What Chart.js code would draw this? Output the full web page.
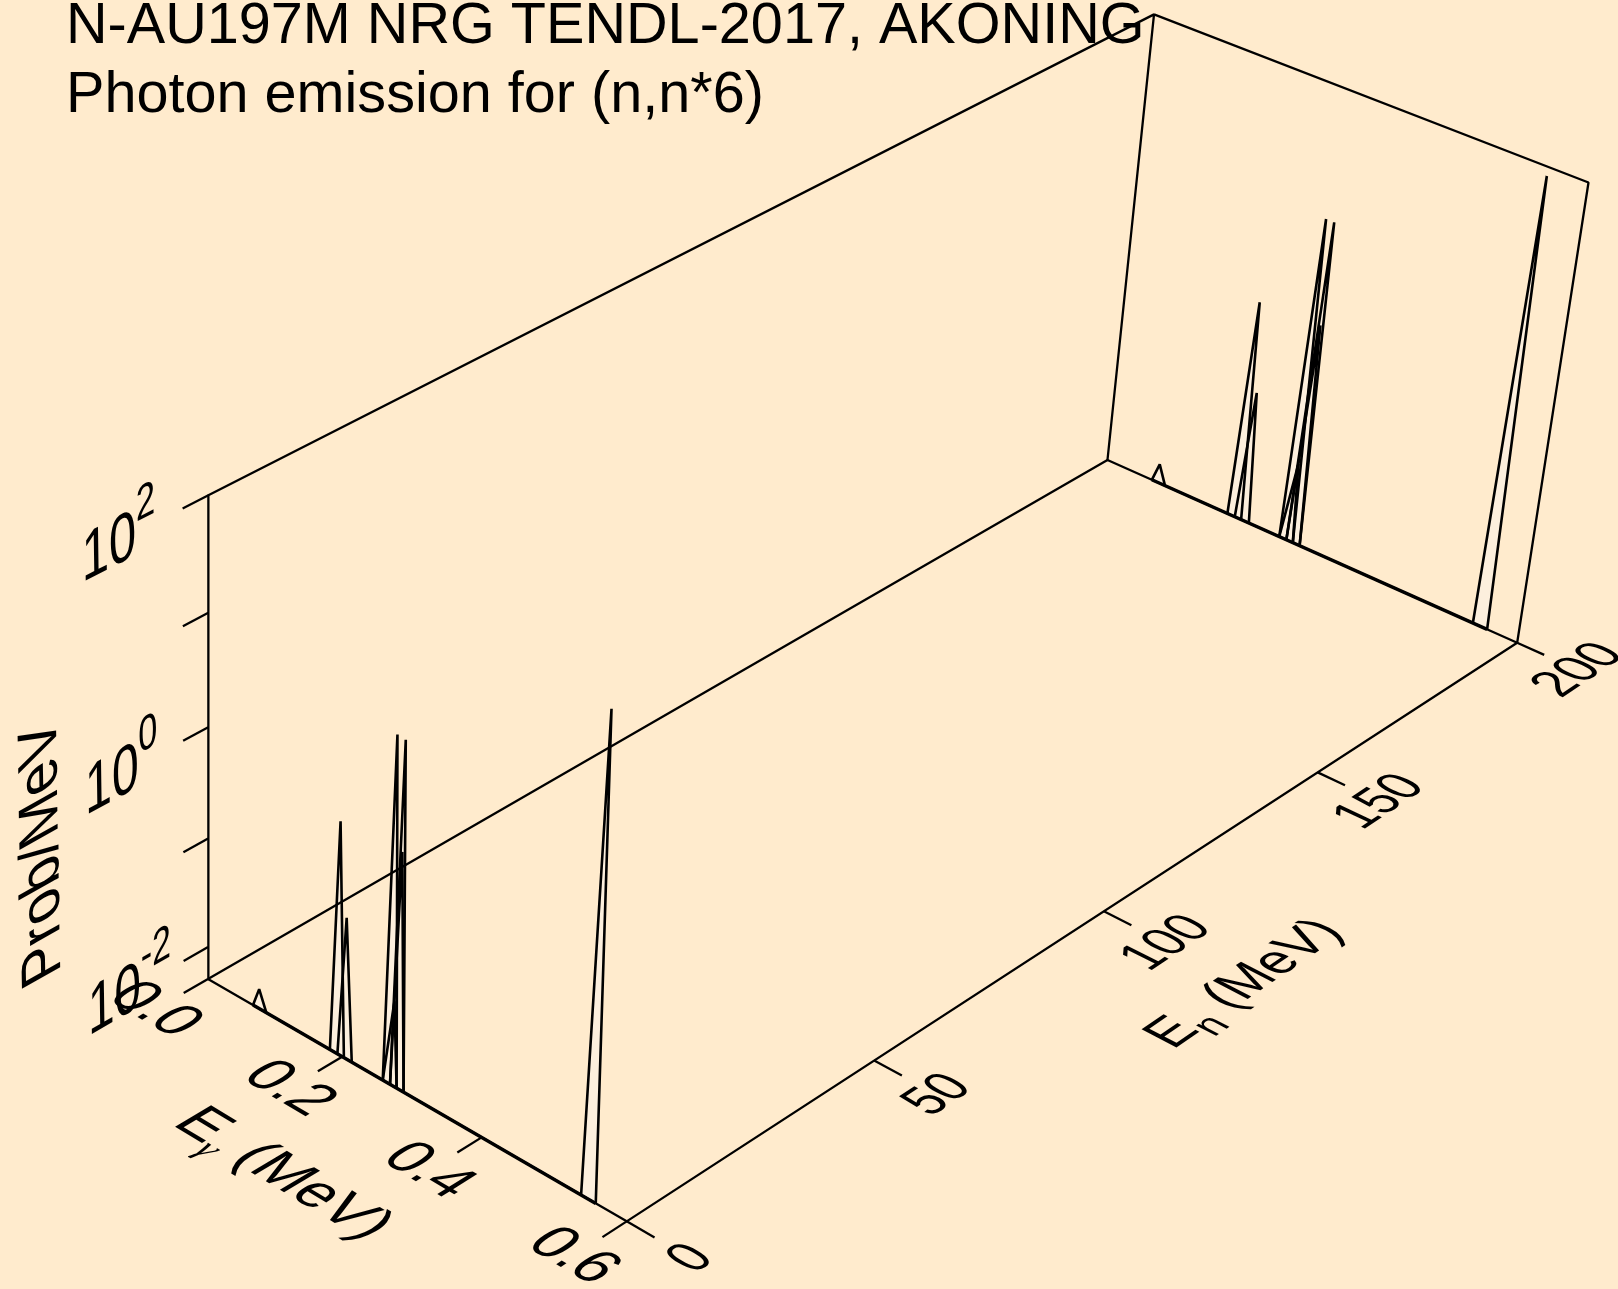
<!DOCTYPE html>
<html><head><meta charset="utf-8">
<style>html,body{margin:0;padding:0;background:#FFEBCD}canvas{display:block}</style>
<script src="https://cdn.jsdelivr.net/npm/chart.js@4"></script>
</head><body><canvas id="c" width="1618" height="1289"></canvas>
<script>
// ---- data ----
const titleLines = ["N-AU197M NRG TENDL-2017, AKONING", "Photon emission for (n,n*6)"];
const egRange = [0, 0.6];
const enRange = [0, 200];
const probRange = [0.005, 100];
const egTicks = [0, 0.2, 0.4, 0.6];
const egTickLabels = ["0.0", "0.2", "0.4", "0.6"];
const enTicks = [0, 50, 100, 150, 200];
const probTicks = [0.01, 0.1, 1, 10, 100];
const probLabelled = [[0.01, "-2"], [1, "0"], [100, "2"]];
// Each photon line: rising edge, apex and falling edge in E-gamma (MeV)
const lineLow  = [0.068, 0.182, 0.193, 0.259, 0.259, 0.2695, 0.2695, 0.538];
const lineApex = [0.077, 0.192, 0.203, 0.2685, 0.273, 0.280, 0.279, 0.547];
const lineHigh = [0.088, 0.2025, 0.214, 0.279, 0.279, 0.289, 0.289, 0.558];
const spectrumEn = [0, 200];
const probAtLowEn  = [0.0076, 0.64, 0.096, 6.5, 0.030, 6.4, 0.68, 86];
const probAtHighEn = [0.0076, 0.63, 0.090, 6.2, 0.029, 6.2, 0.66, 83];
const baselineEg = [0.068, 0.558];

// ---- view: perspective of the unit box (u=E-gamma, v=E-n, w=log prob) ----
const uOf = e => (e - egRange[0]) / (egRange[1] - egRange[0]);
const vOf = e => (e - enRange[0]) / (enRange[1] - enRange[0]);
const wOf = p => (Math.log10(p) - Math.log10(probRange[0])) / (Math.log10(probRange[1]) - Math.log10(probRange[0]));
function view(u, v, w) {
  const d = 1 - 0.05696 * u + 0.14576 * v - 0.056 * w;
  return { x: (208 + 383.0 * u + 1060.9 * v - 11.3 * w) / d,
           y: (979 + 172.8 * u - 451.95 * v - 511.4 * w) / d };
}
const path = pts => pts.map(p => view(p[0], p[1], p[2]));

const INK = "#000", FILL = "#FCEFDD";
const datasets = [];
function addLine(pts, width) {
  datasets.push({ data: path(pts), borderColor: INK, borderWidth: width, pointRadius: 0,
    tension: 0, borderJoinStyle: "bevel", borderCapStyle: "butt", showLine: true, fill: false });
}
function addFill(pts) {
  datasets.push({ data: path(pts), borderColor: "transparent", borderWidth: 0, pointRadius: 0,
    tension: 0, showLine: true, fill: "shape", backgroundColor: FILL });
}
// box
const BOX = 2.3, MARK = 2.6;
addLine([[0,0,0],[1,0,0],[1,1,0],[0,1,0],[0,0,0]], BOX);
addLine([[0,0,0],[0,0,1],[0,1,1],[0,1,0]], BOX);
addLine([[0,1,1],[1,1,1],[1,1,0]], BOX);
// ticks
const T = 0.0235;
egTicks.forEach(e => addLine([[uOf(e),0,0],[uOf(e),-T,0]], BOX));
enTicks.forEach(e => addLine([[1,vOf(e),0],[1.0625,vOf(e),0]], BOX));
probTicks.forEach(p => addLine([[0,-T,wOf(p)],[0,0,wOf(p)]], BOX));
// spectra: outlines first (painted last), then the pale fills
const spectrum = k => lineApex.map((a, i) => {
  const probs = k === 0 ? probAtLowEn : probAtHighEn, v = vOf(spectrumEn[k]);
  return [[uOf(lineLow[i]),v,0],[uOf(a),v,wOf(probs[i])],[uOf(lineHigh[i]),v,0]];
});
spectrumEn.forEach((en, k) => {
  const v = vOf(en);
  addLine([[uOf(baselineEg[0]),v,0],[uOf(baselineEg[1]),v,0]], 3.4);
  spectrum(k).forEach(p => addLine(p, MARK));
});
spectrumEn.forEach((en, k) => spectrum(k).forEach(addFill));

// ---- text lying in the planes of the box ----
function planeText(ctx, segs, at, base, up, size, sx = 1, sy = 1, center = false) {
  const o = view(at[0], at[1], at[2]), E = 0.01;
  const dir = a => { const q = view(at[0]+a[0]*E, at[1]+a[1]*E, at[2]+a[2]*E);
    const dx = q.x-o.x, dy = q.y-o.y, l = Math.hypot(dx,dy); return {x:dx/l,y:dy/l}; };
  const b = dir(base), n = dir(up);
  const fontOf = s => (s.font || "") + " " + (s.size||size) + "px " + (s.family||"'Liberation Sans'");
  ctx.save();
  ctx.transform(b.x*sx, b.y*sx, -n.x*sy, -n.y*sy, o.x, o.y);
  ctx.fillStyle = INK; ctx.textBaseline = "alphabetic"; ctx.textAlign = "left";
  let total = 0;
  segs.forEach(s => { ctx.font = fontOf(s); total += ctx.measureText(s.t).width; });
  let x = center ? -total/2 : 0;
  segs.forEach(s => { ctx.font = fontOf(s); ctx.fillText(s.t, x, -(s.rise||0)); x += ctx.measureText(s.t).width; });
  ctx.restore();
}
const labels = {
  id: "labels",
  afterDatasetsDraw(chart) {
    const ctx = chart.ctx;
    ctx.save();
    ctx.fillStyle = INK; ctx.font = "57.6px 'Liberation Sans'"; ctx.textBaseline = "alphabetic"; ctx.textAlign = "left";
    ctx.fillText(titleLines[0], 66, 43);
    ctx.fillText(titleLines[1], 66, 112);
    ctx.restore();
    const U=[1,0,0], V=[0,1,0], W=[0,0,1], nU=[-1,0,0], nV=[0,-1,0];
    probLabelled.forEach(([p, exp]) => planeText(ctx,
      [{t:"10"},{t:exp,size:39,rise:26}], [0,-0.114,wOf(p)-0.044], V, W, 55, 1, 1.25));
    egTicks.forEach((e,i) => planeText(ctx, [{t:egTickLabels[i]}], [uOf(e),-0.0655,0], U, V, 57, 1, 1.08, true));
    enTicks.forEach(e => planeText(ctx, [{t:String(e)}], [1.175,vOf(e),0], V, nU, 47, 1, 1.22, true));
    planeText(ctx, [{t:"E"},{t:"\u03B3",size:36,rise:-13,font:"italic",family:"'Liberation Serif'"},{t:" (MeV)"}], [0.262,-0.135,0], U, V, 58, 1, 1.05);
    planeText(ctx, [{t:"E"},{t:"n",size:38,rise:-13},{t:" (MeV)"}], [1.35,0.402,0], V, nU, 51, 1, 1.12);
    planeText(ctx, [{t:"Prob/MeV"}], [0,-0.139,0.196], W, nV, 58, 1, 1.1);
  }
};

new Chart(document.getElementById("c"), {
  type: "scatter",
  data: { datasets },
  options: {
    responsive: false, animation: false, devicePixelRatio: 1,
    layout: { padding: 0 },
    plugins: { legend: { display: false }, tooltip: { enabled: false }, title: { display: false } },
    scales: {
      x: { type: "linear", display: false, min: 0, max: 1618 },
      y: { type: "linear", display: false, min: 0, max: 1289, reverse: true }
    }
  },
  plugins: [labels]
});
</script></body></html>
